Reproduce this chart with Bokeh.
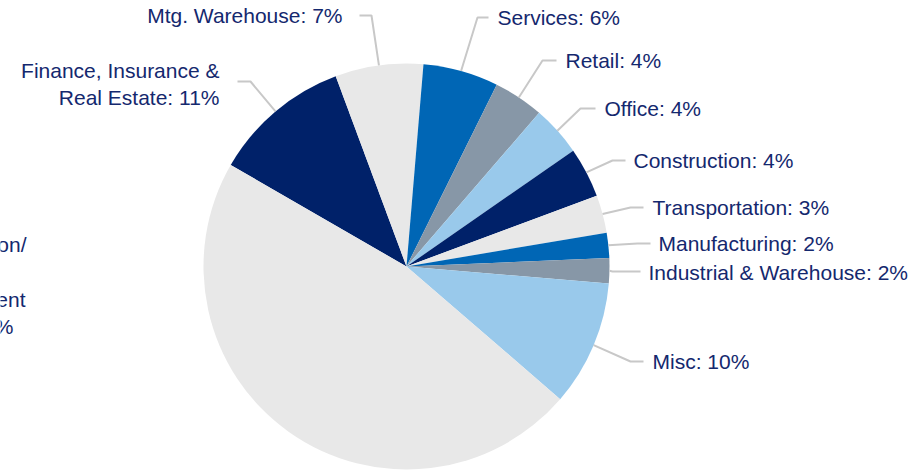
import math
from bokeh.plotting import figure
from bokeh.models import Range1d
from bokeh.core.properties import value
from bokeh.embed import file_html
from bokeh.resources import INLINE

# ---- data ----
categories = ["Finance, Insurance & Real Estate", "Mtg. Warehouse", "Services", "Retail",
              "Office", "Construction", "Transportation", "Manufacturing",
              "Industrial & Warehouse", "Misc", "Residential Construction/ Investment"]
shares = [11, 7, 6, 4, 4, 4, 3, 2, 2, 10, 47]
colors = ["#002169", "#E8E8E8", "#0066B5", "#8797A7", "#99C9EB",
          "#002169", "#E8E8E8", "#0066B5", "#8797A7", "#99C9EB", "#E8E8E8"]

W, H = 918, 470
FONT = "Liberation Sans"
TXT = "#14286E"
LEAD = "#C8C8C8"

p = figure(width=W, height=H, output_backend="svg", toolbar_location=None,
           x_range=Range1d(0, W), y_range=Range1d(0, H),
           x_axis_location=None, y_axis_location=None, min_border=0)
p.grid.visible = False
p.outline_line_color = None
p.background_fill_color = "white"
p.border_fill_color = "white"

def px(X):  # picture x -> data x
    return X

def py(Y):  # picture y -> data y
    return H - Y

cx, cy, R = px(406), py(266), 203
start_deg = 150.0
total = float(sum(shares))
starts, ends, mids = [], [], []
acc = 0.0
for v in shares:
    s = start_deg - acc / total * 360.0
    e = s - v / total * 360.0
    starts.append(math.radians(s))
    ends.append(math.radians(e))
    mids.append(math.radians((s + e) / 2))
    acc += v

p.wedge(x=[cx] * len(shares), y=[cy] * len(shares), radius=R,
        start_angle=starts, end_angle=ends, direction="clock",
        fill_color=colors, line_color=None)

# leader layout: slice index -> (elbow x, elbow y, end x)
layout = {
    0: (250, 81, 237),
    1: (371, 15, 359),
    2: (477, 17, 488),
    3: (542, 60, 556),
    4: (580, 108, 595),
    5: (612, 160, 625),
    6: (630, 207, 643),
    7: (637, 243, 650),
    8: (612, 271, 640),
    9: (630, 361, 643),
}
xs, ys = [], []
for i, (ex, ey, endx) in layout.items():
    ax = cx + R * math.cos(mids[i])
    ay = cy + R * math.sin(mids[i])
    xs.append([ax, px(ex), px(endx)])
    ys.append([ay, py(ey), py(ey)])
p.multi_line(xs=xs, ys=ys, line_color=LEAD, line_width=2)

lab = [f"{c}: {v}%" for c, v in zip(categories, shares)]
# right side labels (left aligned)
rx = [497, 565, 604, 633, 652, 658, 648, 652]
ry = [17, 60, 108, 160, 207, 243, 272, 361]
p.text(x=[px(v) for v in rx], y=[py(v) for v in ry], text=lab[2:10],
       text_align="left", text_baseline="middle", text_color=TXT,
       text_font=value(FONT), text_font_size="21px")

# left side labels (right aligned)
fin_lines = ["Finance, Insurance &", f"Real Estate: {shares[0]}%"]
big_lines = ["Residential Construction/", "Land/", "Residential Investment",
             f"Real Estate: {shares[10]}%"]
lx = [342, 219, 219, 26, -10, 25, 13]
ly = [15, 70, 97, 244, 271, 299, 326]
p.text(x=[px(v) for v in lx], y=[py(v) for v in ly],
       text=[lab[1]] + fin_lines + big_lines,
       text_align="right", text_baseline="middle", text_color=TXT,
       text_font=value(FONT), text_font_size="21px")

open("out.html", "w").write(file_html(p, INLINE))
